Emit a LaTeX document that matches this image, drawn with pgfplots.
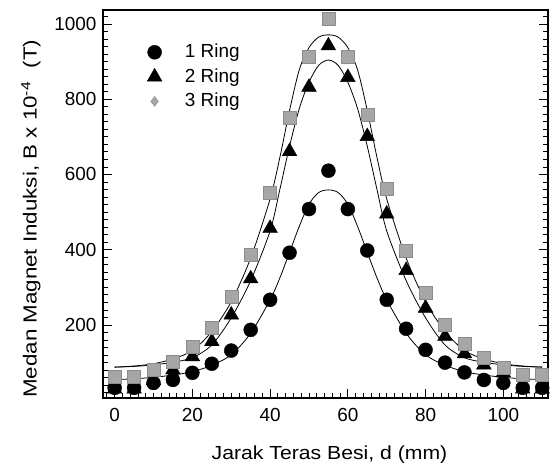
\documentclass[border=0pt]{standalone}
\usepackage{fontspec}
\setmainfont{Liberation Sans}
\usepackage{graphicx}
\usepackage{pgfplots}
\pgfplotsset{compat=1.18}
\pgfplotsset{ringthree legend/.style={legend image code/.code={\draw[mark repeat=2,mark phase=2,##1,mark=diamond*,mark size=5bp] plot coordinates {(0cm,0cm) (0.3cm,0cm) (0.6cm,0cm)};}}}
\begin{document}
\fontsize{19}{22}\selectfont
\begin{tikzpicture}
\begin{axis}[
 scale only axis, width=445bp, height=388bp,
 xmin=-3, xmax=111.5, ymin=6, ymax=1037,
 xtick={0,20,...,100}, ytick={200,400,...,1000},
 minor xtick={-2,2,4,...,110}, minor ytick={20,40,...,1020},
 tick align=inside, xtick pos=bottom, ytick pos=both,
 major tick length=9bp, minor tick length=5bp,
 tick style={line width=0.8bp, black},
 axis line style={line width=1.1bp},
 /pgf/number format/assume math mode=true,
 /pgf/number format/1000 sep={},
 xticklabel style={yshift=-3.5bp},
 xlabel={\scalebox{1.12}[1]{Jarak Teras Besi, d (mm)}},
 ylabel={\scalebox{1.18}[1]{Medan Magnet Induksi, B x 10\textsuperscript{-4}\hspace{0.6em}(T)}},
 xlabel style={at={(axis description cs:0.509,-0.145)}, anchor=center},
 ylabel style={at={(axis description cs:-0.162,0.462)}, anchor=center},
 legend style={draw=none, fill=none, at={(axis description cs:0.099,0.918)}, anchor=north west, row sep=4bp, column sep=21bp, inner sep=0pt},
 legend cell align=left,
]
% fitted curves
\addplot[forget plot, smooth, line width=0.8bp] coordinates {
(0,55) (5,57) (10,61) (15,67) (20,76) (25,93) (30,121) (35,178) (40,267) (42.5,325) (45,393) (47.5,462) (50,521) (52.5,552) (55,559)
(57.5,552) (60,521) (62.5,462) (65,393) (67.5,325) (70,267) (75,178) (80,121) (85,93) (90,76) (95,67) (100,61) (105,57) (110,55)};
\addplot[forget plot, smooth, line width=0.8bp] coordinates {
(0,88) (5,90) (10,94) (15,101) (20,113) (25,147) (30,219) (35,318) (40,450) (42.5,560) (45,675) (47.5,775) (50,845) (52.5,890) (55,904)
(57.5,890) (60,845) (62.5,775) (65,675) (67.5,560) (70,450) (75,318) (80,219) (85,147) (90,113) (95,101) (100,94) (105,90) (110,88)};
\addplot[forget plot, smooth, line width=0.8bp] coordinates {
(0,88) (5,91) (10,97) (15,110) (20,132) (25,183) (30,262) (35,378) (40,535) (42.5,645) (45,770) (47.5,878) (50,937) (52.5,965) (55,971)
(57.5,965) (60,937) (62.5,878) (65,770) (67.5,645) (70,535) (75,378) (80,262) (85,183) (90,132) (95,110) (100,97) (105,91) (110,88)};
% data
\addplot[only marks, mark=*, mark size=7bp, black] coordinates {
(0,33) (5,33) (10,46) (15,54) (20,73) (25,97) (30,132) (35,187) (40,267) (45,392) (50,508) (55,610)
(60,508) (65,398) (70,267) (75,190) (80,134) (85,100) (90,74) (95,54) (100,46) (105,33) (110,33)};
\addlegendentry{1 Ring}
\addplot[only marks, mark=triangle*, mark size=8.5bp, black] coordinates {
(0,30) (5,30) (10,52) (15,81) (20,116) (25,156) (30,227) (35,323) (40,457) (45,661) (50,832) (55,942)
(60,858) (65,701) (70,495) (75,345) (80,245) (85,170) (90,124) (95,94) (100,73) (105,30) (110,30)};
\addlegendentry{2 Ring}
\addplot[only marks, mark=square*, mark size=6.5bp, draw=black!45, fill=black!35, ringthree legend] coordinates {
(0,63) (5,63) (10,81) (15,103) (20,143) (25,192) (30,274) (35,386) (40,551) (45,750) (50,913) (55,1013)
(60,913) (65,758) (70,563) (75,398) (80,286) (85,200) (90,150) (95,112) (100,86) (105,68) (110,68)};
\addlegendentry{3 Ring}
\coordinate (O) at (rel axis cs:0,0);
\end{axis}
\pgfresetboundingbox
\path (O) ++(-103bp,-66bp) rectangle ++(550bp,464bp);
\end{tikzpicture}
\end{document}
